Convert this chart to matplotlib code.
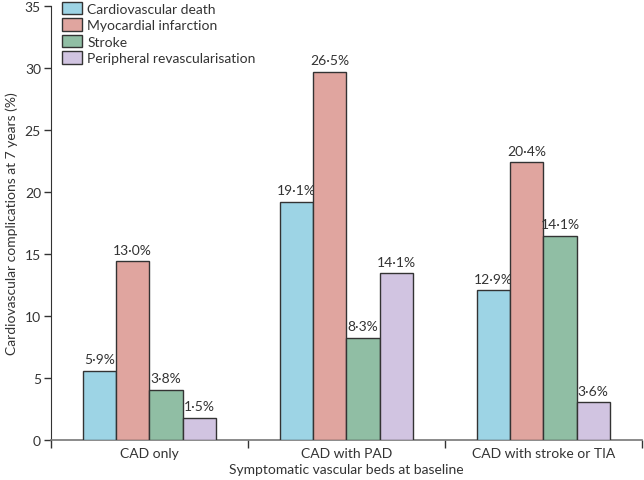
import numpy as np
import matplotlib
matplotlib.use('Agg')
import matplotlib.pyplot as plt

plt.rcParams['font.family'] = ['Lato', 'DejaVu Sans']

groups = ['CAD only', 'CAD with PAD', 'CAD with stroke or TIA']
series = ['Cardiovascular death', 'Myocardial infarction', 'Stroke', 'Peripheral revascularisation']
# bar heights as drawn
cv_death = [5.57, 19.2, 12.05]
mi = [14.38, 29.68, 22.37]
stroke = [4.03, 8.2, 16.45]
periph = [1.75, 13.44, 3.01]
# printed labels
lab_cv = ['5·9%', '19·1%', '12·9%']
lab_mi = ['13·0%', '26·5%', '20·4%']
lab_st = ['3·8%', '8·3%', '14·1%']
lab_pr = ['1·5%', '14·1%', '3·6%']

colors = ['#9dd4e5', '#e0a59f', '#90bea4', '#d1c4e1']
txt = '#333333'

fig = plt.figure(figsize=(6.44, 4.81), dpi=100)
ax = fig.add_axes([0.0787, 0.0838, 0.918, 0.902])

w = 0.169
x = np.arange(len(groups))
vals = [cv_death, mi, stroke, periph]
labs = [lab_cv, lab_mi, lab_st, lab_pr]
for i in range(4):
    pos = x + (i - 1.5) * w
    ax.bar(pos, vals[i], w, color=colors[i], edgecolor='#333333', linewidth=1.0,
           label=series[i], zorder=3)
    for p, v, l in zip(pos, vals[i], labs[i]):
        ax.text(p, v + 0.45, l, ha='center', va='bottom', fontsize=10, color=txt)

ax.set_xlim(-0.5, 2.5)
ax.set_ylim(0, 35)
ax.set_yticks(range(0, 36, 5))
ax.set_xticks([-0.5, 0.5, 1.5, 2.5])
ax.set_xticklabels([])
ax.set_xticks(x, minor=True)
ax.set_xticklabels(groups, minor=True)
ax.tick_params(axis='x', which='minor', length=0, labelsize=10, labelcolor=txt, pad=5)
ax.tick_params(axis='x', which='major', length=6, width=1, color='#333333', direction='out')
ax.tick_params(axis='y', length=5, width=1, color='#333333', labelsize=10, labelcolor=txt, pad=2)

for s in ['top', 'right']:
    ax.spines[s].set_visible(False)
ax.spines['left'].set_color('#333333')
ax.spines['bottom'].set_color('#777777')
ax.spines['bottom'].set_linewidth(1.2)

ax.set_ylabel('Cardiovascular complications at 7 years (%)', fontsize=10, color=txt, labelpad=5)
ax.set_xlabel('Symptomatic vascular beds at baseline', fontsize=10, color=txt, labelpad=3)

leg = ax.legend(loc='upper left', bbox_to_anchor=(0.01, 1.022), frameon=False, fontsize=10,
                handlelength=1.4, handleheight=1.0, handletextpad=0.4, labelspacing=0.25,
                borderaxespad=0)
for t in leg.get_texts():
    t.set_color(txt)

fig.savefig('out.png', dpi=100)
